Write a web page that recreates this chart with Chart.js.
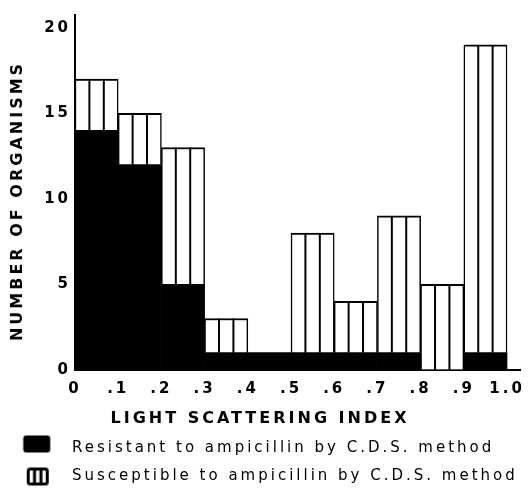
<!DOCTYPE html>
<html>
<head>
<meta charset="utf-8">
<script src="https://cdn.jsdelivr.net/npm/chart.js"></script>
<style>
  html, body { margin: 0; padding: 0; background: #fff; }
  canvas { display: block; }
</style>
</head>
<body>
<canvas id="histogram" width="531" height="494"></canvas>
<script>
// bins of the light scattering index (left edge of each 0.1 wide bin)
const binStarts = [0, 0.1, 0.2, 0.3, 0.4, 0.5, 0.6, 0.7, 0.8, 0.9];
const binWidth = 0.1;
const resistant = [14, 12, 5, 1, 1, 1, 1, 1, 0, 1];
const susceptible = [3, 3, 8, 2, 0, 7, 3, 8, 5, 18];
const xTickLabels = ["0", ".1", ".2", ".3", ".4", ".5", ".6", ".7", ".8", ".9", "1.0"];
const legendLabels = [
    "Resistant to ampicillin by C.D.S. method",
    "Susceptible to ampicillin by C.D.S. method"
];
const xTitle = "LIGHT SCATTERING INDEX";
const yTitle = "NUMBER OF ORGANISMS  ";

Chart.defaults.font.family = "'DejaVu Sans', Verdana, sans-serif";
Chart.defaults.color = "#000";

// legend icons: solid block and the striped box
function makeIcon(striped) {
    const c = document.createElement("canvas");
    c.width = 52;
    c.height = 30;
    const g = c.getContext("2d");
    g.fillStyle = "#000";
    g.strokeStyle = "#000";
    if (!striped) {
        g.beginPath();
        g.roundRect(10.5, 2, 27, 17, 3);
        g.fill();
    } else {
        g.lineWidth = 3;
        g.beginPath();
        g.roundRect(15.5, 7.5, 19, 15, 2);
        g.stroke();
        g.beginPath();
        g.moveTo(21.8, 7.5); g.lineTo(21.8, 22.5);
        g.moveTo(28.2, 7.5); g.lineTo(28.2, 22.5);
        g.stroke();
    }
    return c;
}
const icons = [makeIcon(false), makeIcon(true)];

// wide letter spacing of the original typesetting
const letterSpacing = {
    id: "letterSpacing",
    beforeUpdate(chart) { chart.ctx.letterSpacing = "3px"; },
    beforeDraw(chart) { chart.ctx.letterSpacing = "3px"; }
};

// two vertical lines inside every susceptible bar
const stripes = {
    id: "stripes",
    afterDatasetsDraw(chart) {
        const ctx = chart.ctx;
        const meta = chart.getDatasetMeta(1);
        ctx.save();
        ctx.strokeStyle = "#000";
        ctx.lineWidth = 2;
        meta.data.forEach(bar => {
            const {x, y, base, width} = bar.getProps(["x", "y", "base", "width"], true);
            if (base - y < 1) return;
            const left = x - width / 2;
            ctx.beginPath();
            [1 / 3, 2 / 3].forEach(f => {
                ctx.moveTo(left + width * f, y);
                ctx.lineTo(left + width * f, base);
            });
            ctx.stroke();
        });
        ctx.restore();
    }
};

const toPoints = values => binStarts.map((s, i) => ({x: s + binWidth / 2, y: values[i]}));

new Chart(document.getElementById("histogram"), {
    type: "bar",
    data: {
        datasets: [
            {
                label: legendLabels[0],
                data: toPoints(resistant),
                backgroundColor: "#000",
                borderWidth: 0,
                barPercentage: 1,
                categoryPercentage: 1
            },
            {
                label: legendLabels[1],
                data: toPoints(susceptible),
                backgroundColor: "#fff",
                borderColor: "#000",
                borderWidth: {top: 2, left: 1.5, right: 1.5, bottom: 0},
                barPercentage: 1,
                categoryPercentage: 1
            }
        ]
    },
    options: {
        responsive: false,
        animation: false,
        layout: { padding: {top: 15, right: 11, bottom: 0, left: 0} },
        plugins: {
            tooltip: { enabled: false },
            title: {
                display: true,
                text: xTitle,
                position: "bottom",
                weight: 500,
                font: { size: 16, weight: "bold" },
                padding: { top: 9, bottom: 0 }
            },
            legend: {
                position: "bottom",
                align: "start",
                labels: {
                    usePointStyle: true,
                    pointStyleWidth: 51.5,
                    padding: 13,
                    font: { size: 15 },
                    generateLabels: () => legendLabels.map((text, i) => ({
                        text: text,
                        pointStyle: icons[i],
                        datasetIndex: i,
                        hidden: false,
                        lineWidth: 0,
                        fillStyle: "transparent",
                        strokeStyle: "transparent",
                        fontColor: "#000"
                    }))
                }
            }
        },
        scales: {
            x: {
                type: "linear",
                offset: false,
                stacked: true,
                min: 0,
                max: 1.03,
                grid: { display: false, drawTicks: false },
                border: { display: true, color: "#000", width: 2 },
                ticks: {
                    stepSize: 0.1,
                    includeBounds: false,
                    autoSkip: false,
                    maxRotation: 0,
                    padding: 10,
                    font: { size: 15, weight: "bold" },
                    callback: (value, index) => xTickLabels[index]
                },
                afterFit(scale) {
                    scale.height = 30;
                    scale.paddingLeft = 0;
                    scale.paddingRight = 0;
                }
            },
            y: {
                stacked: true,
                min: 0,
                max: 20.75,
                grid: { display: false, drawTicks: false },
                border: { display: true, color: "#000", width: 2 },
                ticks: {
                    stepSize: 5,
                    includeBounds: false,
                    padding: 4,
                    font: { size: 15, weight: "bold" }
                },
                title: {
                    display: true,
                    text: yTitle,
                    font: { size: 16, weight: "bold" },
                    padding: { top: 8, bottom: 0 }
                },
                afterFit(scale) {
                    scale.width = 75;
                    scale.paddingTop = 0;
                    scale.paddingBottom = 0;
                }
            }
        }
    },
    plugins: [letterSpacing, stripes]
});
</script>
</body>
</html>
